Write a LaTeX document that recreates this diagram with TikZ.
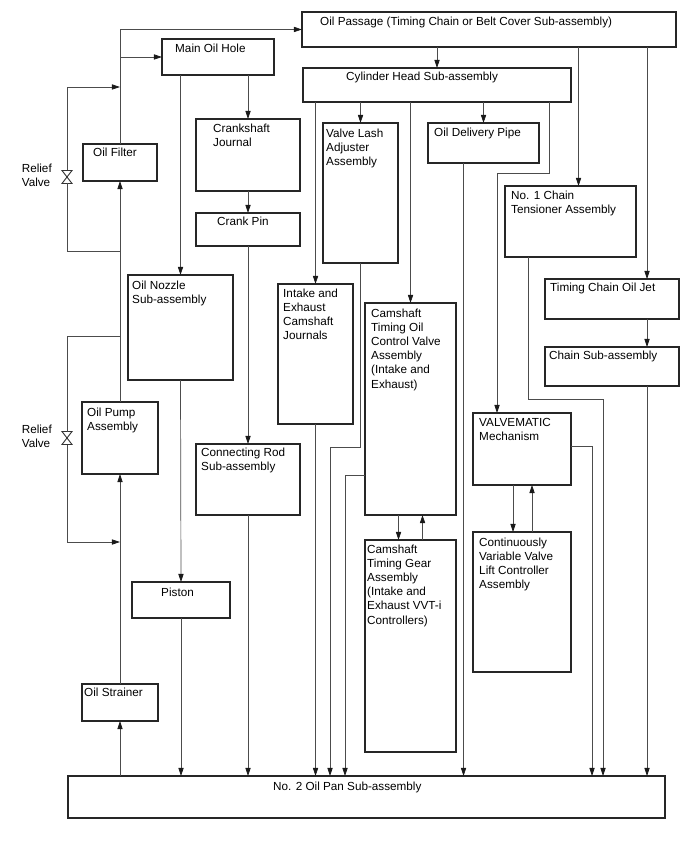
\documentclass[tikz,border=0pt]{standalone}
\usepackage{fontspec}
\setmainfont{Liberation Sans}
\usetikzlibrary{arrows.meta}
\newdimen\pxu
\pxu=0.03cm

\begin{document}
\begin{tikzpicture}[x=0.03cm,y=-0.03cm,
  unit/.style 2 args={draw=black!85, line width=0.9pt, anchor=north west, inner sep=0pt, outer sep=0pt, minimum width=#1\pxu, minimum height=#2\pxu},
  txt/.style={inner sep=0pt, align=left, font=\fontsize{10}{12}\selectfont},
  intxt/.style={txt, anchor=north west, shift={#1}},
  pipe/.style={draw=black!70, line width=0.6pt},
  flow/.style={pipe, -{Triangle[length=7pt,width=4.5pt,color=black!90]}},
  valve/.style={inner sep=0pt, outer sep=0pt, minimum width=10\pxu, minimum height=13\pxu}]
\useasboundingbox (0,0) rectangle (688,852);

\node[unit={374}{35}, label={[intxt={(18,5)}]north west:Oil Passage (Timing Chain or Belt Cover Sub-assembly)}] (passage) at (302,12) {};
\node[unit={112}{36}, label={[intxt={(13,5)}]north west:Main Oil Hole}] (mainhole) at (162,39) {};
\node[unit={268}{34}, label={[intxt={(43,4)}]north west:Cylinder Head Sub-assembly}] (cylhead) at (303,68) {};
\node[unit={74}{37}, label={[intxt={(10,4)}]north west:Oil Filter}] (filter) at (83,144) {};
\node[unit={104}{72}, label={[intxt={(17,5)}]north west:Crankshaft\\Journal}] (journal) at (196,119) {};
\node[unit={75}{140}, label={[intxt={(3,6)}]north west:Valve Lash\\Adjuster\\Assembly}] (vlash) at (323,123) {};
\node[unit={111}{40}, label={[intxt={(6,5)}]north west:Oil Delivery Pipe}] (odp) at (428,123) {};
\node[unit={131}{71}, label={[intxt={(6,5)}]north west:No. 1 Chain\\Tensioner Assembly}] (tensioner) at (505,186) {};
\node[unit={104}{33}, label={[intxt={(21,4)}]north west:Crank Pin}] (crankpin) at (196,213) {};
\node[unit={134}{40}, label={[intxt={(5,4)}]north west:Timing Chain Oil Jet}] (jet) at (545,279) {};
\node[unit={105}{105}, label={[intxt={(4,6)}]north west:Oil Nozzle\\Sub-assembly}] (nozzle) at (128,275) {};
\node[unit={75}{140}, label={[intxt={(5,5)}]north west:Intake and\\Exhaust\\Camshaft\\Journals}] (intake) at (278,284) {};
\node[unit={91}{212}, label={[intxt={(6,6)}]north west:Camshaft\\Timing Oil\\Control Valve\\Assembly\\(Intake and\\Exhaust)}] (ocv) at (365,303) {};
\node[unit={134}{39}, label={[intxt={(4,4)}]north west:Chain Sub-assembly}] (chainsub) at (545,347) {};
\node[unit={76}{72}, label={[intxt={(5,6)}]north west:Oil Pump\\Assembly}] (pump) at (82,402) {};
\node[unit={104}{71}, label={[intxt={(5,4)}]north west:Connecting Rod\\Sub-assembly}] (conrod) at (196,444) {};
\node[unit={98}{72}, label={[intxt={(6,5)}]north west:VALVEMATIC\\Mechanism}] (valvematic) at (473,413) {};
\node[unit={98}{140}, label={[intxt={(6,6)}]north west:Continuously\\Variable Valve\\Lift Controller\\Assembly}] (cvvl) at (473,532) {};
\node[unit={91}{212}, label={[intxt={(2,5)}]north west:Camshaft\\Timing Gear\\Assembly\\(Intake and\\Exhaust VVT-i\\Controllers)}] (gear) at (365,540) {};
\node[unit={98}{36}, label={[intxt={(29,6)}]north west:Piston}] (piston) at (132,582) {};
\node[unit={76}{37}, label={[intxt={(2,4)}]north west:Oil Strainer}] (strainer) at (82,684) {};
\node[unit={597}{42}, label={[intxt={(205,6)}]north west:No. 2 Oil Pan Sub-assembly}] (oilpan) at (68,776) {};

\node[valve, label={[txt, anchor=east, shift={(-10,-2)}]west:Relief\\Valve}] (relief1) at (67,177) {};
\node[valve, label={[txt, anchor=east, shift={(-10,-2)}]west:Relief\\Valve}] (relief2) at (67,438) {};
\foreach \v in {relief1,relief2} {
\draw[black!80, line width=0.8pt] (\v.north west) -- (\v.north east) -- (\v.south west) -- (\v.south east) -- cycle;
}
\coordinate (tap1) at (120,251);
\coordinate (ret1) at (120,87);
\coordinate (tap2) at (120,336);
\coordinate (ret2) at (120,542);

\draw[flow] (strainer.south |- oilpan.north) -- (strainer.south);
\draw[flow] (strainer.north) -- (pump.south);
\draw[flow] (pump.north) -- (filter.south);
\draw[flow] (filter.north) |- (passage.west);
\draw[flow] (filter.north |- mainhole.west) -- (mainhole.west);
\draw[pipe] (tap1) -| (relief1.south);
\draw[flow] (relief1.north) |- (ret1);
\draw[pipe] (tap2) -| (relief2.north);
\draw[flow] (relief2.south) |- (ret2);

\draw[flow] (mainhole.south -| nozzle.north) -- (nozzle.north);
\draw[flow] (nozzle.south) -- (piston.north);
\draw[flow] (piston.south) -- (piston.south |- oilpan.north);
\draw[flow] (mainhole.south -| journal.north) -- (journal.north);
\draw[flow] (journal.south) -- (journal.south |- crankpin.north);
\draw[flow] (crankpin.south) -- (crankpin.south |- conrod.north);
\draw[flow] (conrod.south) -- (conrod.south |- oilpan.north);

\draw[flow] (cylhead.north |- passage.south) -- (cylhead.north);
\draw[flow] ([xshift=8\pxu]tensioner.north |- passage.south) -- ([xshift=8\pxu]tensioner.north);
\draw[flow] ([xshift=35\pxu]jet.north |- passage.south) -- ([xshift=35\pxu]jet.north);
\draw[flow] ([xshift=35\pxu]jet.south) -- ([xshift=35\pxu]chainsub.north);
\draw[flow] ([xshift=35\pxu]chainsub.south) -- ([xshift=35\pxu]chainsub.south |- oilpan.north);
\draw[flow] ([xshift=23\pxu]tensioner.south west) -- ++(0,142) -| ([xshift=535\pxu]oilpan.north west);

\draw[flow] (intake.north |- cylhead.south) -- (intake.north);
\draw[flow] (vlash.north |- cylhead.south) -- (vlash.north);
\draw[flow] (ocv.north |- cylhead.south) -- (ocv.north);
\draw[flow] (odp.north |- cylhead.south) -- (odp.north);
\draw[flow] ([xshift=-22\pxu]cylhead.south east) -- ++(0,71) -| ([xshift=-25\pxu]valvematic.north);

\draw[flow] (intake.south) -- (intake.south |- oilpan.north);
\draw[flow] (vlash.south) -- ++(0,184) -| ([xshift=262\pxu]oilpan.north west);
\draw[flow] ([yshift=-172\pxu]ocv.north west) -| ([xshift=277\pxu]oilpan.north west);
\draw[flow] ([xshift=-12\pxu]ocv.south) -- ([xshift=-12\pxu]gear.north);
\draw[flow] ([xshift=12\pxu]gear.north) -- ([xshift=12\pxu]ocv.south);
\draw[flow] ([xshift=-20\pxu]odp.south) -- ([xshift=-20\pxu]odp.south |- oilpan.north);
\draw[flow] ([xshift=-9\pxu]valvematic.south) -- ([xshift=-9\pxu]cvvl.north);
\draw[flow] ([xshift=10\pxu]cvvl.north) -- ([xshift=10\pxu]valvematic.south);
\draw[flow] ([yshift=-33\pxu]valvematic.north east) -| ([xshift=524\pxu]oilpan.north west);
\end{tikzpicture}
\end{document}
